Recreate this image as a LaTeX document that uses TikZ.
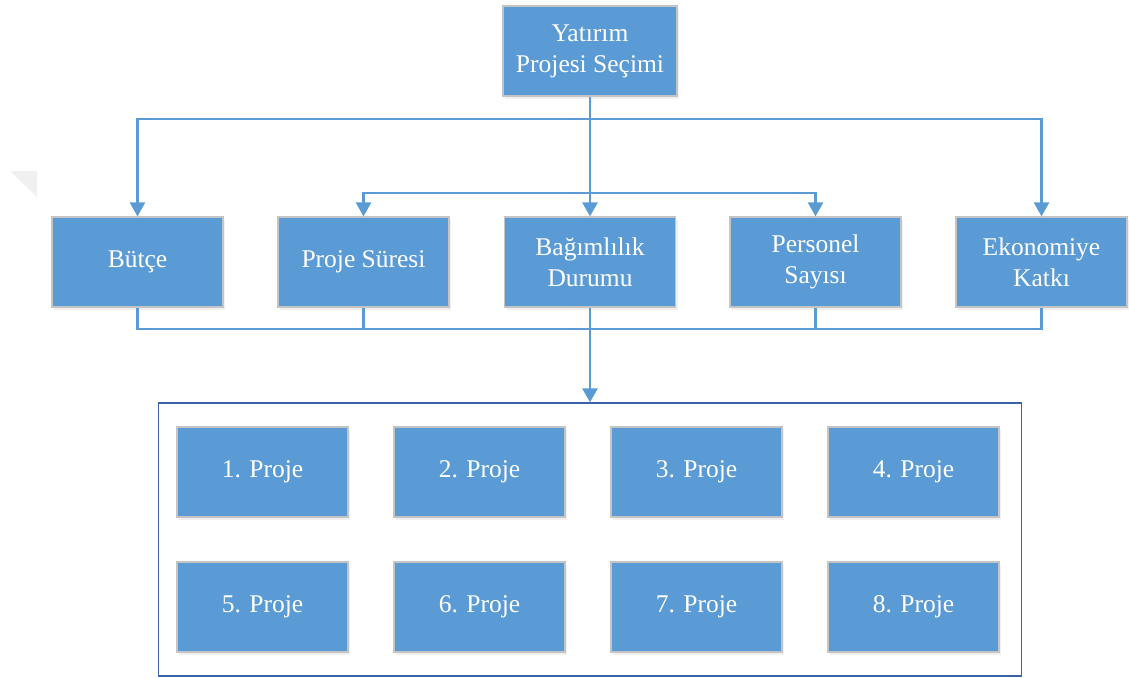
\documentclass[tikz,border=0pt]{standalone}
\usepackage{fontspec}
\setmainfont{Liberation Serif}
\usetikzlibrary{arrows.meta,shadows}
\definecolor{boxblue}{HTML}{5B9BD5}
\definecolor{boxedge}{HTML}{C4C4C4}
\definecolor{frameblue}{HTML}{3A62A8}
\tikzset{
  card/.style={rectangle, fill=boxblue, draw=boxedge, line width=1.2pt,
    minimum width=171pt, minimum height=90pt, inner sep=2pt,
    text=white, align=center, font=\fontsize{25.5}{31}\selectfont,
    drop shadow={opacity=0.12, shadow xshift=2pt, shadow yshift=-3pt}},
  link/.style={draw=boxblue, line width=2.6pt},
  linkarrow/.style={link, -{Triangle[width=15pt,length=14pt]}}
}
\begin{document}
\begin{tikzpicture}[x=1pt,y=-1pt]
\useasboundingbox (0,0) rectangle (1129,677);
% faint corner mark on the left
\fill[gray!12] (10,171) -- (37,171) -- (37,197) -- cycle;

% root
\node[card, minimum width=174pt] (root) at (590,51) {Yatırım\\Projesi Seçimi};

% criteria
\node[card] (c1) at (137.5,262) {Bütçe};
\node[card] (c2) at (363.5,262) {Proje Süresi};
\node[card] (c3) at (590,262) {Bağımlılık\\Durumu};
\node[card] (c4) at (815.5,262) {Personel\\Sayısı};
\node[card] (c5) at (1041.5,262) {Ekonomiye\\Katkı};

% projects frame
\node[draw=frameblue, line width=1.3pt, minimum width=863pt, minimum height=273pt, inner sep=0pt] (frame) at (590,539.5) {};

% projects
\node[card] (p1) at (262.5,472) {1. Proje};
\node[card] (p2) at (479.5,472) {2. Proje};
\node[card] (p3) at (696.5,472) {3. Proje};
\node[card] (p4) at (913.5,472) {4. Proje};
\node[card] (p5) at (262.5,607) {5. Proje};
\node[card] (p6) at (479.5,607) {6. Proje};
\node[card] (p7) at (696.5,607) {7. Proje};
\node[card] (p8) at (913.5,607) {8. Proje};

% branching from the root
\coordinate (busTop) at (590,119);
\coordinate (busMid) at (590,193);
\draw[link] (root.south) -- (busTop);
\draw[linkarrow] (busTop) -| (c1.north);
\draw[linkarrow] (busTop) -| (c5.north);
\draw[linkarrow] (busTop) -- (c3.north);
\draw[linkarrow] (busMid) -| (c2.north);
\draw[linkarrow] (busMid) -| (c4.north);

% merging into the project frame
\coordinate (busLow) at (590,329);
\draw[link] (c1.south) |- (busLow);
\draw[link] (c2.south) |- (busLow);
\draw[link] (c5.south) |- (busLow);
\draw[link] (c4.south) |- (busLow);
\draw[link] (c3.south) -- (busLow);
\draw[linkarrow] (busLow) -- (frame.north);
\end{tikzpicture}
\end{document}
